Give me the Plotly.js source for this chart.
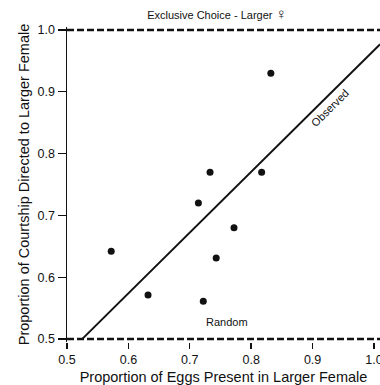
<!DOCTYPE html>
<html>
<head>
<meta charset="utf-8">
<script src="https://cdn.plot.ly/plotly-3.0.1.min.js"></script>
<style>html,body{margin:0;padding:0;background:#fff;}#chart{width:380px;height:385px;}</style>
</head>
<body>
<div id="chart"></div>
<script>
// Data
const eggsX = [0.572, 0.632, 0.714, 0.733, 0.722, 0.743, 0.772, 0.817, 0.832];
const courtshipY = [0.642, 0.571, 0.720, 0.770, 0.561, 0.631, 0.680, 0.770, 0.930];
const observedX = [0.525, 1.01];
const observedY = [0.5, 0.977];
const randomX = [0.5, 1.01];
const randomY = [0.5, 0.5];
const exclusiveX = [0.5, 1.01];
const exclusiveY = [1.0, 1.0];
const tickVals = [0.5, 0.6, 0.7, 0.8, 0.9, 1.0];
const tickText = ["0.5", "0.6", "0.7", "0.8", "0.9", "1.0"];

const FONT = "Liberation Sans, Arial, Helvetica, sans-serif";
const traces = [
  {x: randomX, y: randomY, mode: "lines", line: {color: "#111", width: 2.5, dash: "7px,3px"}, hoverinfo: "skip"},
  {x: exclusiveX, y: exclusiveY, mode: "lines", line: {color: "#111", width: 2.5, dash: "7px,3px"}, hoverinfo: "skip"},
  {x: observedX, y: observedY, mode: "lines", line: {color: "#111", width: 2}},
  {x: eggsX, y: courtshipY, mode: "markers", marker: {color: "#111", size: 7}}
];
const layout = {
  width: 380, height: 385,
  margin: {l: 67, r: 0, t: 27, b: 43},
  paper_bgcolor: "#fff", plot_bgcolor: "#fff",
  showlegend: false,
  font: {family: FONT, color: "#111"},
  title: {text: "Exclusive Choice - Larger <span style=\"font-size:15px\">\u2640</span>", font: {size: 11, family: FONT, color: "#111"},
          x: 0.571, xanchor: "center", y: 0.961, yanchor: "middle"},
  xaxis: {
    range: [0.5, 1.0098], tickvals: tickVals, ticktext: tickText,
    showgrid: false, zeroline: false, showline: false,
    ticks: "outside", ticklen: 6, tickwidth: 1.4, tickcolor: "#111",
    ticklabeloverflow: "allow",
    tickfont: {size: 12.5, family: FONT, color: "#111"},
    title: {text: "Proportion of Eggs Present in Larger Female", font: {size: 14.5, family: FONT, color: "#111"}, standoff: 6}
  },
  yaxis: {
    range: [0.495, 1.005], tickvals: tickVals, ticktext: tickText,
    showgrid: false, zeroline: false, showline: true, linecolor: "#111", linewidth: 1.5,
    ticks: "outside", ticklen: 8, tickwidth: 1.2, tickcolor: "#111",
    tickfont: {size: 12.5, family: FONT, color: "#111"},
    title: {text: "Proportion of Courtship Directed to Larger Female", font: {size: 14.5, family: FONT, color: "#111"}, standoff: 4}
  },
  annotations: [
    {x: 0.928, y: 0.874, xref: "x", yref: "y", text: "Observed", showarrow: false, textangle: -45,
     font: {size: 11, family: FONT, color: "#111"}},
    {x: 0.76, y: 0.5275, xref: "x", yref: "y", text: "Random", showarrow: false,
     font: {size: 11, family: FONT, color: "#111"}}
  ]
};
Plotly.newPlot("chart", traces, layout, {displayModeBar: false, staticPlot: true});
</script>
</body>
</html>
